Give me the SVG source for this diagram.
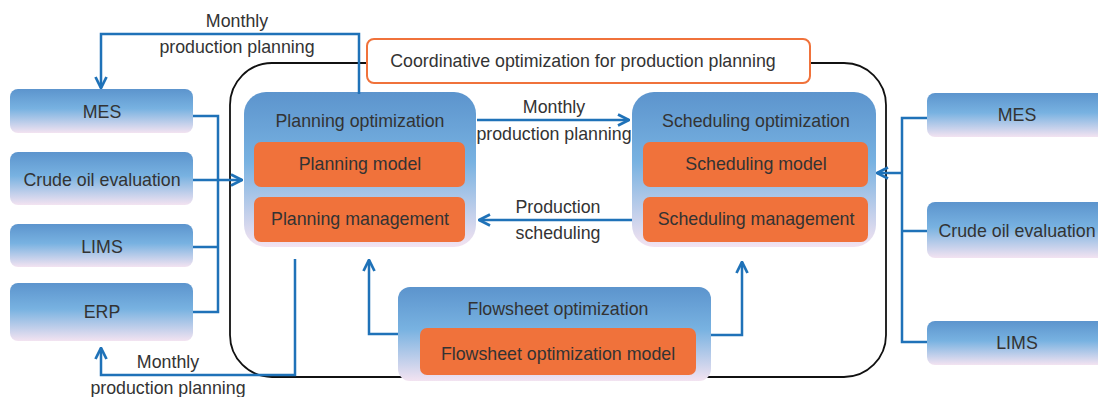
<svg xmlns="http://www.w3.org/2000/svg" width="1098" height="397" viewBox="0 0 1098 397">
  <style>
    text { font-family: "Liberation Sans", Arial, sans-serif; font-size: 17.8px; fill: #333333; text-anchor: middle; }
    .box { fill: url(#blueGrad); }
    .inner { fill: #f0723b; }
    .link { fill: none; stroke: #1f72b8; stroke-width: 2.5; }
    .arrow { marker-end: url(#chev); }
  </style>
  <defs>
    <linearGradient id="blueGrad" x1="0" y1="0" x2="0" y2="1">
      <stop offset="0" stop-color="#5c94cd"/>
      <stop offset="0.45" stop-color="#78b2e1"/>
      <stop offset="1" stop-color="#f3e3f1"/>
    </linearGradient>
    <marker id="chev" viewBox="0 0 10 10" refX="9" refY="5" markerWidth="5.5" markerHeight="5.5" markerUnits="strokeWidth" orient="auto">
      <path d="M1,1 L9,5 L1,9" fill="none" stroke="#1f72b8" stroke-width="2"/>
    </marker>
  </defs>

  <!-- outer frame and title -->
  <g id="frame">
    <rect x="230" y="63" width="656" height="314" rx="42" fill="none" stroke="#111" stroke-width="1.8"/>
    <rect x="367" y="39" width="443" height="44" rx="7" fill="#fff" stroke="#f0723b" stroke-width="2"/>
    <text x="583" y="67">Coordinative optimization for production planning</text>
  </g>

  <!-- left sources -->
  <g id="mes-left"><rect class="box" x="10" y="89" width="183" height="44" rx="8"/><text x="102" y="118">MES</text></g>
  <g id="crude-left"><rect class="box" x="10" y="152" width="183" height="53" rx="8"/><text x="102" y="186">Crude oil evaluation</text></g>
  <g id="lims-left"><rect class="box" x="10" y="224" width="183" height="43" rx="8"/><text x="102" y="253">LIMS</text></g>
  <g id="erp-left"><rect class="box" x="10" y="283" width="183" height="58" rx="8"/><text x="102" y="318">ERP</text></g>

  <!-- right sources -->
  <g id="mes-right"><rect class="box" x="927" y="93" width="190" height="44" rx="8"/><text x="1017" y="121">MES</text></g>
  <g id="crude-right"><rect class="box" x="927" y="202" width="190" height="56" rx="8"/><text x="1017" y="237">Crude oil evaluation</text></g>
  <g id="lims-right"><rect class="box" x="927" y="321" width="190" height="44" rx="8"/><text x="1017" y="349">LIMS</text></g>

  <!-- planning optimization -->
  <g id="planning">
    <rect class="box" x="244" y="92" width="232" height="155" rx="22"/>
    <text x="360" y="127">Planning optimization</text>
    <rect class="inner" x="254" y="142" width="211" height="45" rx="7"/>
    <text x="360" y="170">Planning model</text>
    <rect class="inner" x="254" y="197" width="211" height="45" rx="7"/>
    <text x="360" y="225">Planning management</text>
  </g>

  <!-- scheduling optimization -->
  <g id="scheduling">
    <rect class="box" x="632" y="92" width="244" height="155" rx="22"/>
    <text x="756" y="127">Scheduling optimization</text>
    <rect class="inner" x="643" y="142" width="225" height="45" rx="7"/>
    <text x="756" y="170">Scheduling model</text>
    <rect class="inner" x="643" y="197" width="225" height="45" rx="7"/>
    <text x="756" y="225">Scheduling management</text>
  </g>

  <!-- flowsheet optimization -->
  <g id="flowsheet">
    <rect class="box" x="398" y="287" width="313" height="94" rx="12"/>
    <text x="558" y="315">Flowsheet optimization</text>
    <rect class="inner" x="420" y="328" width="276" height="47" rx="7"/>
    <text x="558" y="360">Flowsheet optimization model</text>
  </g>

  <!-- connectors -->
  <g id="connectors">
    <path class="link" d="M193,116 H218 V312 H193 M193,247 H218"/>
    <path class="link arrow" d="M193,180 H242"/>
    <path class="link arrow" d="M359,94 V34 H101 V88"/>
    <path class="link arrow" d="M295,259 V375 H101 V348"/>
    <path class="link arrow" d="M477,120 H629"/>
    <path class="link arrow" d="M632,220 H479"/>
    <path class="link arrow" d="M398,334 H369 V260"/>
    <path class="link arrow" d="M711,335 H742 V262"/>
    <path class="link" d="M927,118 H902 V342 H927 M902,231 H927"/>
    <path class="link arrow" d="M902,173 H877"/>
  </g>

  <!-- connector labels -->
  <g id="labels">
    <text x="237" y="27">Monthly</text>
    <text x="237" y="53">production planning</text>
    <text x="168" y="368">Monthly</text>
    <text x="168" y="394">production planning</text>
    <text x="554" y="113">Monthly</text>
    <text x="554" y="140">production planning</text>
    <text x="558" y="213">Production</text>
    <text x="558" y="239">scheduling</text>
  </g>
</svg>
